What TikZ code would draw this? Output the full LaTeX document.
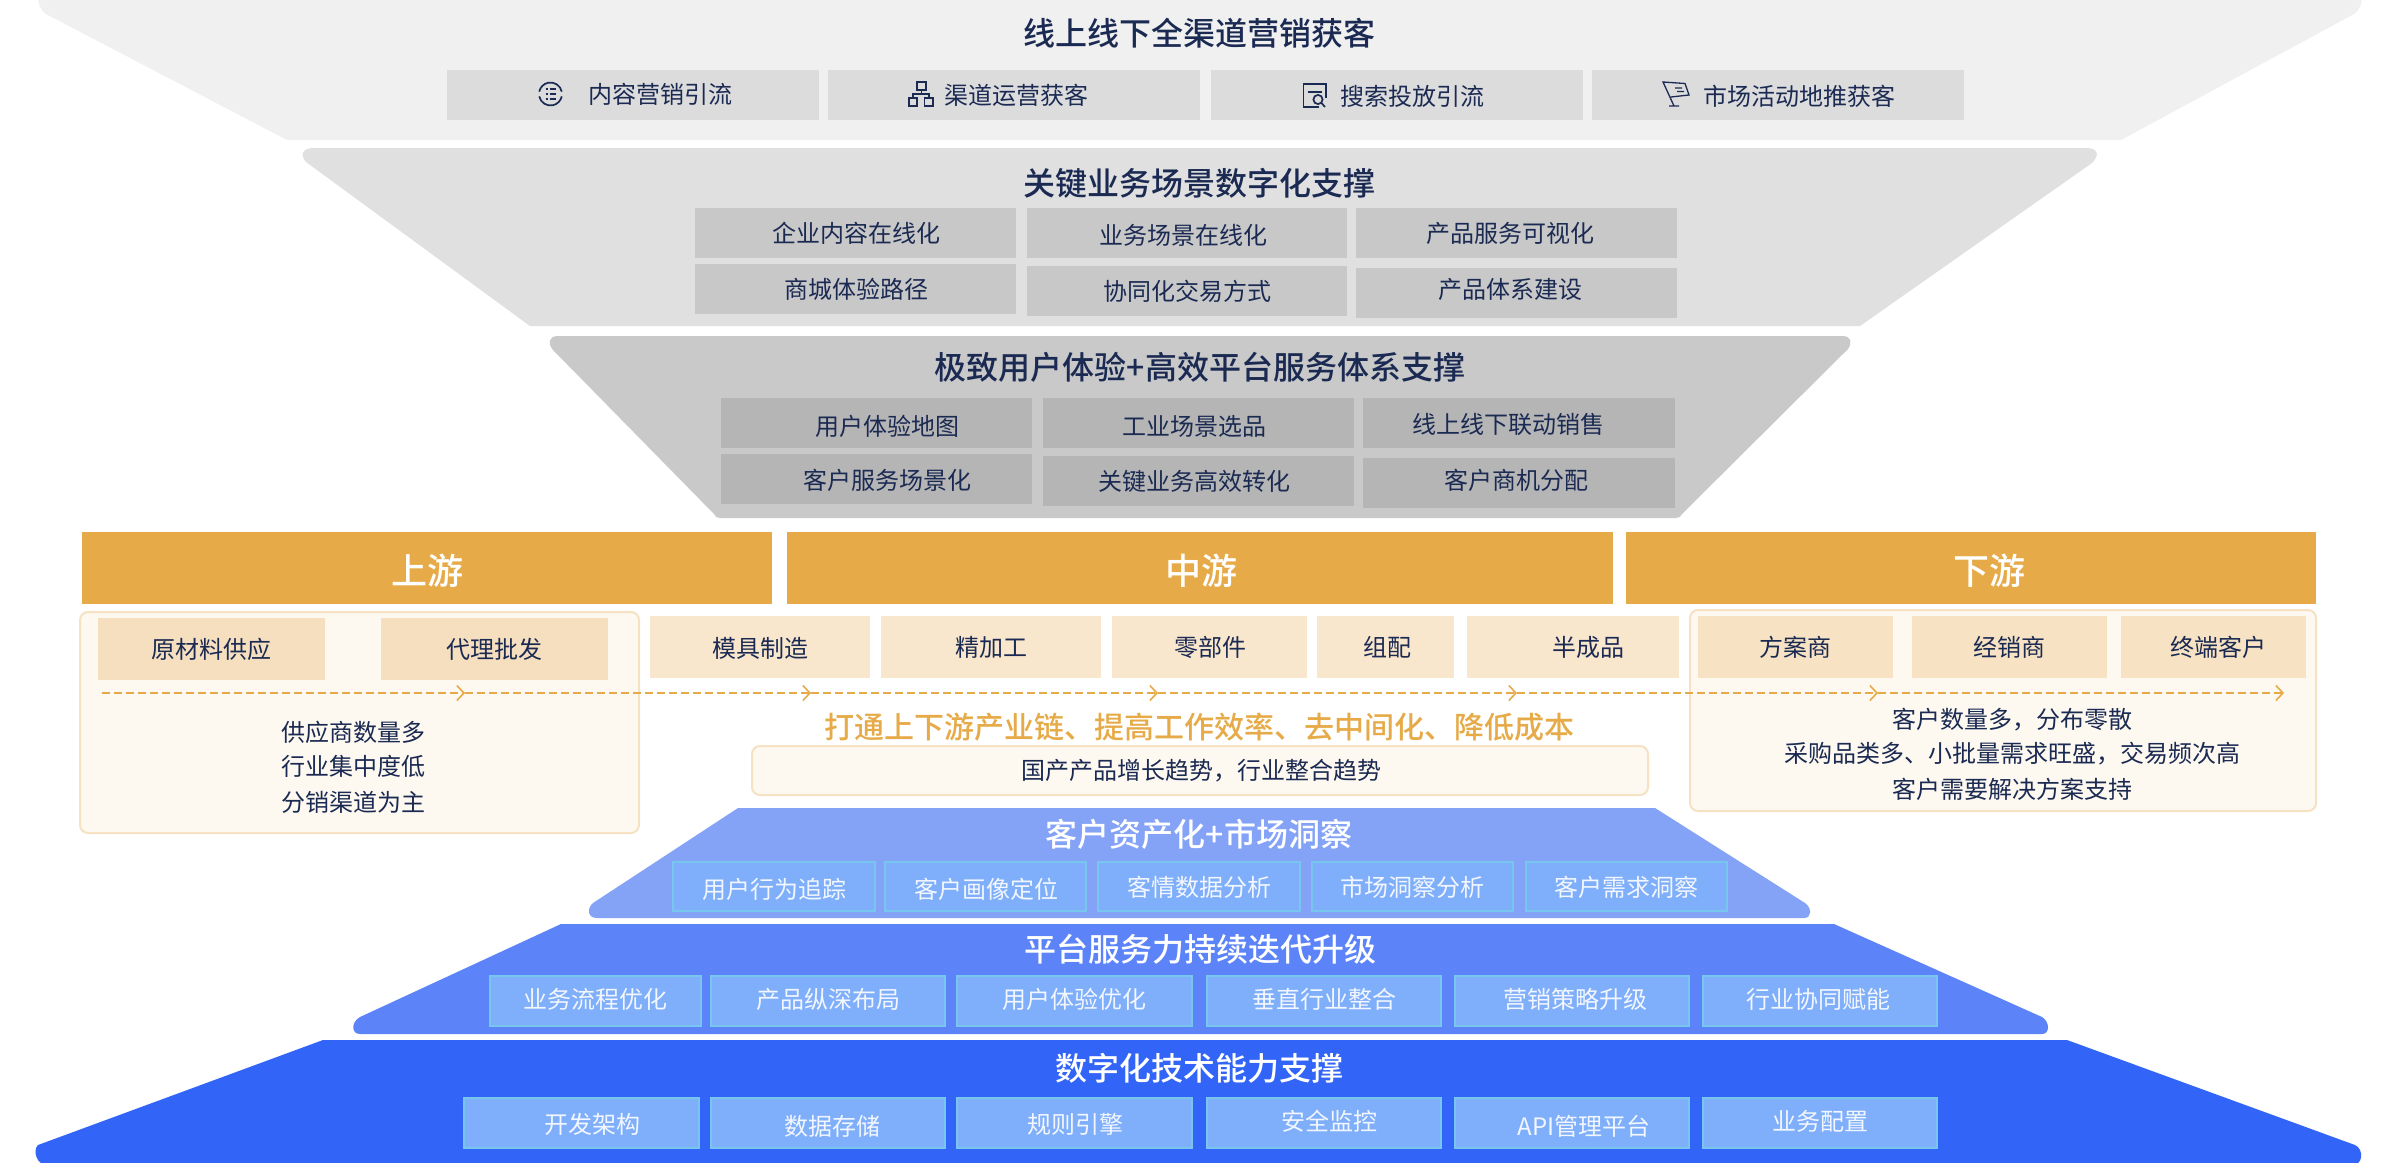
\documentclass[tikz,border=0pt]{standalone}
\usepackage{fontspec}
\setmainfont[BoldFont={Noto Sans CJK SC Medium}]{Noto Sans CJK SC}
\usetikzlibrary{arrows.meta}
\definecolor{ink}{HTML}{1B2A52}
\definecolor{wtxt}{HTML}{F2F6FF}
\definecolor{gold}{HTML}{E6AB48}
\definecolor{panelfill}{HTML}{FDF8F0}
\definecolor{panelline}{HTML}{F6E2C2}
\definecolor{gA}{HTML}{F0F0F0}\definecolor{gAb}{HTML}{DCDCDC}
\definecolor{gB}{HTML}{E0E0E0}\definecolor{gBb}{HTML}{C8C8C8}
\definecolor{gC}{HTML}{C9C9C9}\definecolor{gCb}{HTML}{B5B5B5}
\definecolor{bA}{HTML}{84A3F7}\definecolor{bB}{HTML}{5C84F8}\definecolor{bC}{HTML}{3265F7}
\definecolor{cell}{HTML}{7FAFFA}\definecolor{cellline}{HTML}{77C6EE}
\definecolor{upbox}{HTML}{F5DFBF}\definecolor{midbox}{HTML}{F9E7CD}\definecolor{downbox}{HTML}{F7E3C3}
\tikzset{
  flat/.style={inner sep=0pt,fill=#1},
  bluecell/.style={inner sep=0pt,fill=cell,draw=cellline,line width=2pt},
  t24/.style={inner sep=0pt,text=ink,font=\fontsize{24}{28}\selectfont,text height=21pt,text depth=3pt},
  t24w/.style={inner sep=0pt,text=wtxt,font=\fontsize{24}{28}\selectfont,text height=21pt,text depth=3pt},
  title/.style={inner sep=0pt,text=ink,font=\fontsize{32}{38}\selectfont\bfseries,text height=28pt,text depth=4pt},
  titlew/.style={title,text=white},
  head/.style={inner sep=0pt,fill=gold},
  headtxt/.style={inner sep=0pt,text=white,font=\fontsize{36}{42}\selectfont\bfseries},
  panel/.style={inner sep=0pt,fill=panelfill,draw=panelline,line width=2pt,rounded corners=8pt},
  flow/.style={draw=gold,line width=2pt,dash pattern=on 8pt off 4pt,-{Straight Barb[length=7pt,width=15pt,line width=1.6pt]}},
  icon/.style={draw=ink,line width=1.7pt},
}
\newcommand\bx[9][t24]{%
  \node[#2,minimum width={#6-#4},minimum height={#7-#5}] (#3) at ({(#4+#6)/2},{(#5+#7)/2}) {};
  \node[#1] (#3t) at (#8) {#9};}
\begin{document}
\begin{tikzpicture}[x=1pt,y=-1pt]
\clip (0,0) rectangle (2400,1162);
\fill[white] (0,0) rectangle (2400,1162);
% ---- gray funnel
\fill[gA] (287,140) -- (46,14) .. controls (40,9) and (38,5) .. (38,-6) -- (2362,-6) .. controls (2362,5) and (2360,9) .. (2354,14) -- (2121,140) -- cycle;
\node[title] (t1) at (1199,33) {线上线下全渠道营销获客};
\fill[gB] (530,326) -- (306,162) .. controls (300,155) and (302,148) .. (314,148) -- (2086,148) .. controls (2098,148) and (2100,155) .. (2092,163) -- (1860,326) -- cycle;
\node[title] (t2) at (1199,183) {关键业务场景数字化支撑};
\fill[gC] (714,514) -- (553,350) .. controls (548,344) and (548,336) .. (558,336) -- (1842,336) .. controls (1852,336) and (1852,343) .. (1848,349) -- (1682,514) .. controls (1680,517) and (1679,518) .. (1676,518) -- (720,518) .. controls (717,518) and (716,517) .. (714,514) -- cycle;
\node[title] (t3) at (1200,367) {极致用户体验+高效平台服务体系支撑};
% row 1
\bx{flat=gAb}{a1}{447}{70}{819}{120}{660,94}{内容营销引流}
\bx{flat=gAb}{a2}{828}{70}{1200}{120}{1016,95}{渠道运营获客}
\bx{flat=gAb}{a3}{1211}{70}{1583}{120}{1412,96}{搜索投放引流}
\bx{flat=gAb}{a4}{1592}{70}{1964}{120}{1799,96}{市场活动地推获客}
% icons
\draw[icon] ([shift={(12:11.5pt)}]550.5,94) arc[start angle=12,end angle=168,radius=11.5pt];
\draw[icon] ([shift={(192:11.5pt)}]550.5,94) arc[start angle=192,end angle=348,radius=11.5pt];
\foreach \yy in {89,94,99}{\draw[icon] (545.5,\yy) -- (547.5,\yy) (549.5,\yy) -- (556,\yy);}
\draw[icon] (917,82) rectangle (926,90) (909,98) rectangle (917,106) (924.5,98) rectangle (933,106) (921.5,90) -- (921.5,94) (913,98) -- (913,94) -- (929,94) -- (929,98);
\draw[icon] (1326,98) -- (1326,84) -- (1303.5,84) -- (1303.5,107) -- (1319,107) (1308,92) -- (1322,92);
\draw[icon] (1318,99.5) circle[radius=4.6pt] (1321.5,103) -- (1325,107);
\draw[icon,line width=1.3pt] (1674,106) -- (1663,82) -- (1685,83.5) -- (1689,95) -- (1671,97) (1669,106) -- (1679,106) (1675,88) -- (1682,88) (1677,91.5) -- (1684,91.5);
% row 2
\bx{flat=gBb}{b1}{695}{208}{1016}{258}{856,233}{企业内容在线化}
\bx{flat=gBb}{b2}{1027}{208}{1347}{258}{1183,235}{业务场景在线化}
\bx{flat=gBb}{b3}{1356}{208}{1677}{258}{1510,233}{产品服务可视化}
\bx{flat=gBb}{b4}{695}{264}{1016}{314}{856,289}{商城体验路径}
\bx{flat=gBb}{b5}{1027}{266}{1347}{316}{1187,291}{协同化交易方式}
\bx{flat=gBb}{b6}{1356}{268}{1677}{318}{1510,289}{产品体系建设}
% row 3
\bx{flat=gCb}{c1}{721}{398}{1032}{448}{887,426}{用户体验地图}
\bx{flat=gCb}{c2}{1043}{398}{1354}{448}{1194,426}{工业场景选品}
\bx{flat=gCb}{c3}{1363}{398}{1675}{448}{1508,424}{线上线下联动销售}
\bx{flat=gCb}{c4}{721}{454}{1032}{504}{887,480}{客户服务场景化}
\bx{flat=gCb}{c5}{1043}{456}{1354}{506}{1194,481}{关键业务高效转化}
\bx{flat=gCb}{c6}{1363}{458}{1675}{508}{1516,480}{客户商机分配}
% ---- headers
\bx[headtxt]{head}{up}{82}{532}{772}{604}{427,571}{上游}
\bx[headtxt]{head}{mid}{787}{532}{1613}{604}{1201,571}{中游}
\bx[headtxt]{head}{down}{1625.5}{532}{2316}{604}{1989,571}{下游}
% ---- panels
\node[panel,minimum width=559,minimum height=221] (pu) at (359.5,722.5) {};
\node[panel,minimum width=626,minimum height=201] (pd) at (2003,710.5) {};
\node[panel,minimum width=896,minimum height=49] (pm) at (1200,770.5) {};
\bx{flat=upbox}{u1}{98}{618}{325}{680}{211,649}{原材料供应}
\bx{flat=upbox}{u2}{381}{618}{608}{680}{494,649}{代理批发}
\bx{flat=midbox}{m1}{650}{616}{870}{678}{760,648}{模具制造}
\bx{flat=midbox}{m2}{881}{616}{1101}{678}{991,647}{精加工}
\bx{flat=midbox}{m3}{1112}{616}{1307}{678}{1210,647}{零部件}
\bx{flat=midbox}{m4}{1317}{616}{1454}{678}{1387,647}{组配}
\bx{flat=midbox}{m5}{1467}{616}{1679}{678}{1588,647}{半成品}
\bx{flat=downbox}{d1}{1698}{616}{1893}{678}{1795,647}{方案商}
\bx{flat=downbox}{d2}{1912}{616}{2107}{678}{2009,647}{经销商}
\bx{flat=downbox}{d3}{2121}{616}{2306}{678}{2218,647}{终端客户}
% ---- flow
\coordinate (f0) at (102,693);
\coordinate (f1) at (465,693);
\coordinate (f2) at (811,693);
\coordinate (f3) at (1158,693);
\coordinate (f4) at (1517,693);
\coordinate (f5) at (1878,693);
\coordinate (f6) at (2284,693);
\draw[flow] (f0) -- (f1);
\draw[flow] (f1) -- (f2);
\draw[flow] (f2) -- (f3);
\draw[flow] (f3) -- (f4);
\draw[flow] (f4) -- (f5);
\draw[flow] (f5) -- (f6);
% ---- panel texts
\node[t24] (ut1) at (353,732) {供应商数量多};
\node[t24] (ut2) at (353,766) {行业集中度低};
\node[t24] (ut3) at (353,802) {分销渠道为主};
\node[t24] (dt1) at (2012,719) {客户数量多，分布零散};
\node[t24] (dt2) at (2012,753) {采购品类多、小批量需求旺盛，交易频次高};
\node[t24] (dt3) at (2012,789) {客户需要解决方案支持};
\node[t24] (pmt) at (1201,770) {国产产品增长趋势，行业整合趋势};
\node[inner sep=0pt,text=gold,font=\fontsize{30}{36}\selectfont\bfseries] (slogan) at (1199.5,727) {打通上下游产业链、提高工作效率、去中间化、降低成本};
% ---- blue pyramid
\fill[bA] (738,808) -- (1655,808) -- (1805,903) .. controls (1812,908) and (1812,918) .. (1804,918) -- (597,918) .. controls (587,918) and (587,908) .. (593,903) -- cycle;
\node[titlew] (bt1) at (1199,834) {客户资产化+市场洞察};
\fill[bB] (561,924) -- (1834,924) -- (2042,1017) .. controls (2050,1022) and (2050,1034) .. (2042,1034) -- (360,1034) .. controls (351,1034) and (351,1022) .. (360,1017) -- cycle;
\node[titlew] (bt2) at (1200,949) {平台服务力持续迭代升级};
\fill[bC] (323,1040) -- (2067,1040) -- (2355,1145) .. controls (2364,1149) and (2364,1166) .. (2350,1166) -- (50,1166) .. controls (35,1166) and (33,1149) .. (38,1145) -- cycle;
\node[titlew] (bt3) at (1199,1068) {数字化技术能力支撑};
\bx[t24w]{bluecell}{e1}{673}{862}{875}{911}{774,889}{用户行为追踪}
\bx[t24w]{bluecell}{e2}{885}{862}{1086}{911}{986,889}{客户画像定位}
\bx[t24w]{bluecell}{e3}{1098}{862}{1300}{911}{1199,887}{客情数据分析}
\bx[t24w]{bluecell}{e4}{1312}{862}{1513}{911}{1412,887}{市场洞察分析}
\bx[t24w]{bluecell}{e5}{1526}{862}{1727}{911}{1626,887}{客户需求洞察}
\bx[t24w]{bluecell}{g1}{490}{976}{701}{1026}{595,999}{业务流程优化}
\bx[t24w]{bluecell}{g2}{711}{976}{945}{1026}{828,999}{产品纵深布局}
\bx[t24w]{bluecell}{g3}{957}{976}{1192}{1026}{1074,999}{用户体验优化}
\bx[t24w]{bluecell}{g4}{1207}{976}{1441}{1026}{1324,999}{垂直行业整合}
\bx[t24w]{bluecell}{g5}{1455}{976}{1689}{1026}{1575,999}{营销策略升级}
\bx[t24w]{bluecell}{g6}{1703}{976}{1937}{1026}{1818,999}{行业协同赋能}
\bx[t24w]{bluecell}{h1}{464}{1098}{699}{1148}{592,1124}{开发架构}
\bx[t24w]{bluecell}{h2}{711}{1098}{945}{1148}{832,1126}{数据存储}
\bx[t24w]{bluecell}{h3}{957}{1098}{1192}{1148}{1075,1124}{规则引擎}
\bx[t24w]{bluecell}{h4}{1207}{1098}{1441}{1148}{1329,1121}{安全监控}
\bx[t24w]{bluecell}{h5}{1455}{1098}{1689}{1148}{1584,1126}{API管理平台}
\bx[t24w]{bluecell}{h6}{1703}{1098}{1937}{1148}{1820,1121}{业务配置}
\end{tikzpicture}
\end{document}
